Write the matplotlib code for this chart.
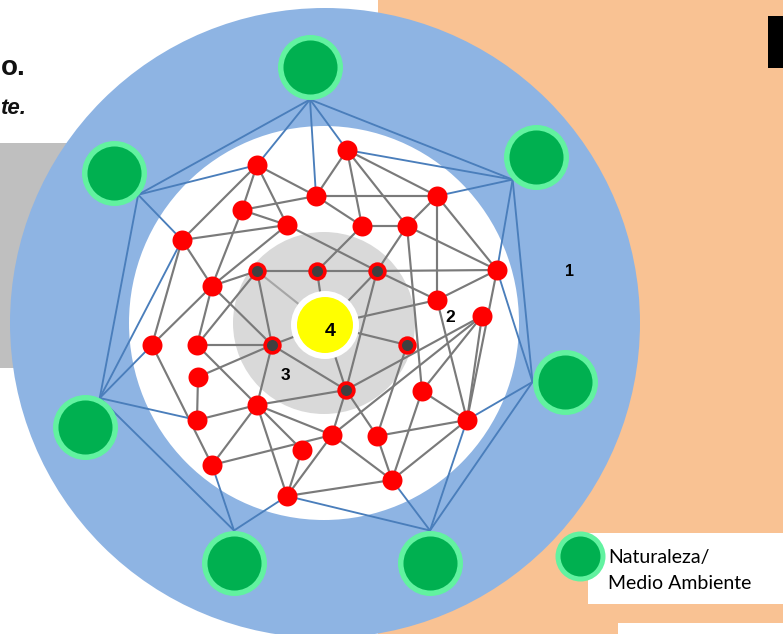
import matplotlib
matplotlib.use('Agg')
import matplotlib.pyplot as plt
from matplotlib.patches import Circle, Ellipse, Rectangle
from matplotlib.collections import LineCollection
import numpy as np

# ---------------- data ----------------
red_names = ['R1', 'R2', 'R3', 'R4', 'R5', 'R6', 'R7', 'R8', 'R9', 'R10', 'R11', 'R12', 'R13',
             'R14', 'R15', 'R16', 'R17', 'R18', 'R19', 'R20', 'R21', 'R22', 'R23', 'R24', 'R25', 'R26']
red_x = [257, 347, 316, 242, 287, 362, 407, 437, 182, 497, 212, 437, 482,
         152, 197, 198, 422, 197, 257, 467, 332, 377, 302, 212, 392, 287]
red_y = [165, 150, 196, 210, 225, 226, 226, 196, 240, 270, 286, 300, 316,
         345, 345, 377, 391, 420, 405, 420, 435, 436, 450, 465, 480, 496]

dark_names = ['D1', 'D2', 'D3', 'D4', 'D5', 'D6']
dark_x = [257, 317, 377, 272, 407, 346]
dark_y = [271, 271, 271, 345, 345, 390]

center_name = 'Y'
center_xy = (325, 325)

green_names = ['G1', 'G2', 'G3', 'G4', 'G5', 'G6', 'G7']
green_x = [310, 536, 565, 430, 234, 85, 114]
green_y = [67, 157, 382, 563, 563, 427, 173]
green_hub_angle = [90, 136, 180, 270, 270, 297, 42]   # connection point on each circle

gray_edges = [
    ('R1', 'R3'), ('R1', 'R4'), ('R1', 'R5'), ('R1', 'R9'),
    ('R2', 'R3'), ('R2', 'R6'), ('R2', 'R7'), ('R2', 'R8'),
    ('R3', 'R4'), ('R3', 'R6'), ('R3', 'R8'),
    ('R4', 'R5'), ('R4', 'R11'),
    ('R5', 'R9'), ('R5', 'R11'), ('R5', 'D3'),
    ('R6', 'R7'), ('R6', 'D2'),
    ('R7', 'R8'), ('R7', 'R10'), ('R7', 'D3'), ('R7', 'R17'),
    ('R8', 'R10'), ('R8', 'R12'),
    ('R9', 'R11'), ('R9', 'R14'),
    ('R10', 'R12'), ('R10', 'R20'), ('R10', 'D3'),
    ('R11', 'R14'), ('R11', 'R15'), ('R11', 'D1'), ('R11', 'D4'),
    ('R12', 'Y'), ('R12', 'R20'), ('R12', 'D3'),
    ('R13', 'D6'), ('R13', 'R17'), ('R13', 'R20'), ('R13', 'R21'),
    ('R14', 'R24'),
    ('R15', 'D1'), ('R15', 'D4'), ('R15', 'R19'),
    ('R16', 'D4'), ('R16', 'R18'),
    ('R17', 'R20'), ('R17', 'R25'),
    ('R18', 'R19'),
    ('R19', 'D4'), ('R19', 'D6'), ('R19', 'R21'), ('R19', 'R23'), ('R19', 'R24'), ('R19', 'R26'),
    ('R20', 'R22'), ('R20', 'R25'),
    ('R21', 'R24'), ('R21', 'R26'), ('R21', 'R25'), ('R21', 'D6'),
    ('R22', 'D5'), ('R22', 'D6'), ('R22', 'R25'),
    ('R23', 'R26'),
    ('R25', 'R26'),
    ('D1', 'D2'), ('D1', 'D4'),
    ('D2', 'D3'), ('D2', 'Y'),
    ('D3', 'Y'), ('D3', 'D6'),
    ('D4', 'Y'), ('D4', 'D6'),
    ('D5', 'Y'),
    ('D6', 'Y'),
]
light_edges = [('D1', 'Y')]

blue_edges = [
    ('G1', 'G7'), ('G1', 'G2'), ('G1', 'R1'), ('G1', 'R3'), ('G1', 'R2'),
    ('G2', 'G3'), ('G2', 'R2'), ('G2', 'R8'), ('G2', 'R10'),
    ('G3', 'G4'), ('G3', 'R10'), ('G3', 'R20'),
    ('G4', 'R20'), ('G4', 'R25'), ('G4', 'R26'),
    ('G5', 'G6'), ('G5', 'R24'), ('G5', 'R26'),
    ('G6', 'G7'), ('G6', 'R9'), ('G6', 'R14'), ('G6', 'R18'),
    ('G7', 'R1'), ('G7', 'R9'),
]

ring_labels = ['1', '2', '3', '4']
ring_label_x = [570, 450, 285, 330]
ring_label_y = [271, 317, 376, 332]
ring_label_size = [11.5, 12.5, 12.5, 14]

legend_lines = ['Naturaleza/', 'Medio Ambiente']
corner_texts = ['o.', 'te.']

# ---------------- layout ----------------
W, H = 783, 634
fig = plt.figure(figsize=(W / 100, H / 100), dpi=100)
ax = fig.add_axes([0, 0, 1, 1])
ax.set_xlim(0, W)
ax.set_ylim(H, 0)
ax.axis('off')

# backgrounds
ax.add_patch(Rectangle((378, 0), W - 378, H, color='#f9c293', zorder=0, lw=0))
ax.add_patch(Rectangle((0, 143), 120, 225, color='#bfbfbf', zorder=0, lw=0))
ax.add_patch(Rectangle((768, 16), 15, 52, color='black', zorder=0, lw=0))
ax.add_patch(Rectangle((588, 533), W - 588, 71, color='white', zorder=0.5, lw=0))
ax.add_patch(Rectangle((618, 623), W - 618, 11, color='white', zorder=0.5, lw=0))

ax.text(0.5, 75, corner_texts[0], fontsize=20, fontweight='bold', ha='left', va='baseline',
        family='Liberation Sans', color='#111111', zorder=0.5)
ax.text(0.5, 114, corner_texts[1], fontsize=16, fontweight='bold', style='italic', ha='left',
        va='baseline', family='Liberation Sans', color='#111111', zorder=0.5)

# rings
ax.add_patch(Circle((325, 323), 315, color='#8eb4e3', zorder=1, lw=0))
ax.add_patch(Ellipse((324, 323), 390, 394, color='white', zorder=2, lw=0))
ax.add_patch(Circle((324, 323), 91, color='#d9d9d9', zorder=3, lw=0))

# node position lookup
pos = {}
for n, x, y in zip(red_names, red_x, red_y):
    pos[n] = (x, y)
for n, x, y in zip(dark_names, dark_x, dark_y):
    pos[n] = (x, y)
pos[center_name] = center_xy
GREEN_R = 32.5
for n, x, y, a in zip(green_names, green_x, green_y, green_hub_angle):
    t = np.deg2rad(a)
    pos[n] = (x + GREEN_R * np.cos(t), y + GREEN_R * np.sin(t))

def segs(edges):
    return [[pos[a], pos[b]] for a, b in edges]

ax.add_collection(LineCollection(segs(gray_edges), colors='#7a7a7a', linewidths=1.55,
                                 zorder=4, capstyle='butt'))
ax.add_collection(LineCollection(segs(light_edges), colors='#a6a6a6', linewidths=1.5,
                                 zorder=4))
ax.add_collection(LineCollection(segs(blue_edges), colors='#4a7ebb', linewidths=1.35,
                                 zorder=4))

# central yellow node
ax.add_patch(Circle(center_xy, 34, color='white', zorder=5, lw=0))
ax.add_patch(Circle(center_xy, 28, color='#ffff00', zorder=6, lw=0))

# red nodes
ax.scatter(red_x, red_y, s=207, c='#ff0000', linewidths=0, zorder=7)
ax.scatter(dark_x, dark_y, s=175, c='#ff0000', linewidths=0, zorder=7)
ax.scatter(dark_x, dark_y, s=63, c='#404040', linewidths=0, zorder=8)

# green nodes
ax.scatter(green_x, green_y, s=2190, c='#62f2a0', linewidths=0, zorder=8)
ax.scatter(green_x, green_y, s=1513, c='#00b050', linewidths=0, zorder=9)

# ring labels
for t, x, y, s in zip(ring_labels, ring_label_x, ring_label_y, ring_label_size):
    ax.text(x, y, t, fontsize=s, fontweight='bold', family='Liberation Sans', ha='center',
            va='center', color='black', zorder=10)

# legend
ax.scatter([580], [556], s=1296, c='#62f2a0', linewidths=0, zorder=8)
ax.scatter([580], [556], s=829, c='#00b050', linewidths=0, zorder=9)
ax.text(608, 563, legend_lines[0], fontsize=14, family='Lato', va='baseline',
        ha='left', color='black', zorder=10)
ax.text(608, 589, legend_lines[1], fontsize=14, family='Lato', va='baseline',
        ha='left', color='black', zorder=10)

fig.savefig('out.png', dpi=100)
